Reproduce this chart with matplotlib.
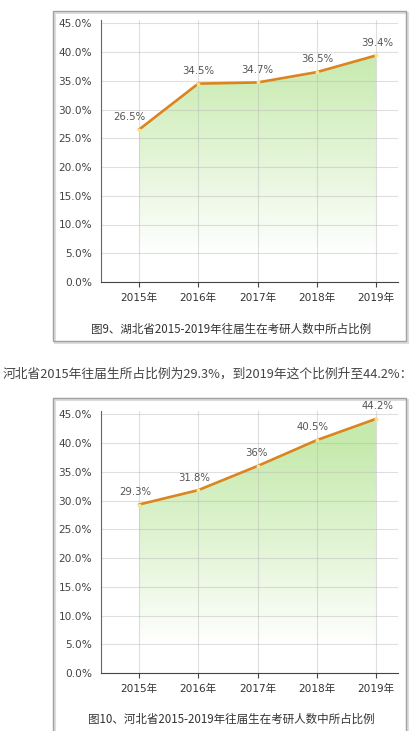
import matplotlib
matplotlib.use("Agg")
import matplotlib.pyplot as plt
import matplotlib.patches as patches
import numpy as np

plt.rcParams['font.family'] = ['DejaVu Sans', 'Noto Sans CJK SC']

# 数据
years = ['2015年', '2016年', '2017年', '2018年', '2019年']
hubei_values = [26.5, 34.5, 34.7, 36.5, 39.4]
hubei_labels = ['26.5%', '34.5%', '34.7%', '36.5%', '39.4%']
hebei_values = [29.3, 31.8, 36.0, 40.5, 44.2]
hebei_labels = ['29.3%', '31.8%', '36%', '40.5%', '44.2%']
yticks = [0, 5, 10, 15, 20, 25, 30, 35, 40, 45]
ytick_labels = ['0.0%', '5.0%', '10.0%', '15.0%', '20.0%', '25.0%', '30.0%', '35.0%', '40.0%', '45.0%']
caption_hubei = '图9、湖北省2015-2019年往届生在考研人数中所占比例'
caption_hebei = '图10、河北省2015-2019年往届生在考研人数中所占比例'
middle_text = '河北省2015年往届生所占比例为29.3%，到2019年这个比例升至44.2%：'

W, H = 412, 731
fig = plt.figure(figsize=(W / 100, H / 100), dpi=100)
fig.patch.set_facecolor('white')

LINE = '#db8420'
GREEN = np.array([0.78, 0.92, 0.68])


def px(x, y):
    # 像素坐标 -> figure 坐标
    return x / W, 1 - y / H


def frame(x0, y0, x1, y1):
    # 外框 + 阴影
    fx0, fy1 = px(x0, y0)
    fx1, fy0 = px(x1, y1)
    shadow = patches.Rectangle((fx0 + 2 / W, fy0 - 2 / H), fx1 - fx0, fy1 - fy0,
                               transform=fig.transFigure, facecolor='none',
                               edgecolor='#dddddd', linewidth=1.5, zorder=-2)
    box = patches.Rectangle((fx0, fy0), fx1 - fx0, fy1 - fy0,
                            transform=fig.transFigure, facecolor='none',
                            edgecolor='#a0a0a0', linewidth=1.0, zorder=-1)
    fig.patches.extend([shadow, box])


def draw_chart(zero_y, values, labels, label_dx, caption, caption_y):
    ytop = zero_y - 45.6 * 5.75
    l, b = px(101, zero_y)
    r, t = px(398, ytop)
    ax = fig.add_axes([l, b, r - l, t - b])
    ax.set_facecolor('none')
    x = np.arange(len(values))
    ax.set_xlim(-0.64, 4.37)
    ax.set_ylim(0, 45.6)

    # 渐变填充
    grad = np.zeros((256, 1, 4))
    yy = np.linspace(0, 45, 256)
    alpha = np.clip((yy - 5) / 35, 0, 1) ** 0.95
    grad[:, 0, :3] = GREEN
    grad[:, 0, 3] = alpha
    verts = [(x[0], 0)] + list(zip(x, values)) + [(x[-1], 0), (x[0], 0)]
    poly = patches.Polygon(verts, closed=True, facecolor='none', edgecolor='none',
                           transform=ax.transData)
    ax.add_patch(poly)
    im = ax.imshow(grad, extent=[x[0], x[-1], 0, 45], origin='lower',
                   aspect='auto', zorder=0.8)
    im.set_clip_path(poly)

    ax.plot(x, values, color=LINE, linewidth=1.9, zorder=3, solid_capstyle='round')
    ax.scatter(x, values, s=8, color='#f7e48c', zorder=4, linewidths=0)
    for xi, v, lab, dx in zip(x, values, labels, label_dx):
        ax.annotate(lab, (xi, v), xytext=(dx, 5.5), textcoords='offset points',
                    ha='center', va='bottom', fontsize=7.3, color='#555555', zorder=5)

    ax.set_yticks(yticks)
    ax.set_yticklabels(ytick_labels)
    ax.set_xticks(x)
    ax.set_xticklabels(years)
    ax.grid(True, color='#b8b8b8', alpha=0.45, linewidth=0.8)
    ax.set_axisbelow('line')
    for s in ['top', 'right']:
        ax.spines[s].set_visible(False)
    ax.spines['left'].set_color('#666666')
    ax.spines['bottom'].set_color('#444444')
    ax.spines['left'].set_linewidth(0.8)
    ax.spines['bottom'].set_linewidth(0.8)
    ax.tick_params(axis='y', length=0, pad=6.5, labelsize=7.6, labelcolor='#444444')
    ax.tick_params(axis='x', length=3.5, width=0.8, color='#444444', direction='out',
                   pad=4.5, labelsize=7.6, labelcolor='#333333')

    cx, cy = px(231, caption_y)
    fig.text(cx, cy, caption, ha='center', va='center', fontsize=8.3, color='#333333',
             family=['Noto Sans CJK SC', 'DejaVu Sans'])


frame(53, 11, 406, 341)
draw_chart(282, hubei_values, hubei_labels, [-7, 0, 0, 0, 1], caption_hubei, 329)

mx, my = px(3, 374)
fig.text(mx, my, middle_text, ha='left', va='center', fontsize=9.2, color='#444444',
         family=['Noto Sans CJK SC', 'DejaVu Sans'])

frame(53, 398, 406, 740)
draw_chart(673, hebei_values, hebei_labels, [-3, -3, -1, -3, 1], caption_hebei, 719)

fig.savefig('out.png', dpi=100, facecolor='white')
